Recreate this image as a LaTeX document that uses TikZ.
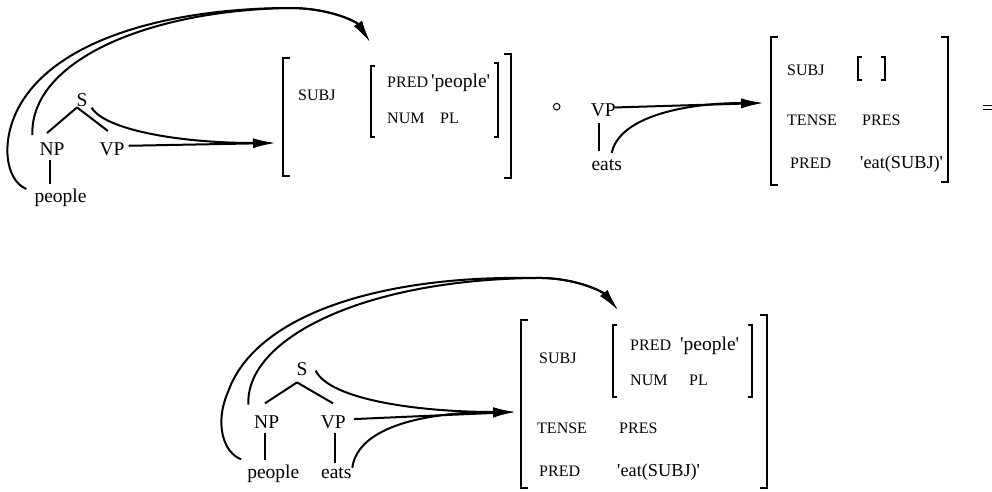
\documentclass[tikz,border=0pt]{standalone}
\usepackage{fontspec}
\setmainfont{Liberation Serif}
\usetikzlibrary{arrows.meta,calc}
\newcommand\bigf{\fontsize{19.5}{19.5}\selectfont}
\newcommand\valf{\fontsize{18.3}{18.3}\selectfont}
\newcommand\smf{\fontsize{16}{16}\selectfont}
\newcommand\q{\textquotesingle}
\begin{document}
\begin{tikzpicture}[x=1pt,y=1pt,
  lab/.style={inner sep=0pt,anchor=base,font=\bigf},
  feat/.style={inner sep=0pt,anchor=base west,font=\smf},
  val/.style={inner sep=0pt,anchor=base west,font=\bigf},
  vals/.style={inner sep=0pt,anchor=base west,font=\valf},
  branch/.style={line width=2pt},
  link/.style={line width=2pt,-{Latex[length=22pt,width=9.5pt]}},
  brk/.style={line width=2.2pt}]
\useasboundingbox (0,0) rectangle (992,-491);

% ---------- top left tree ----------
\node[lab] (s1) at (82,-106) {S};
\node[lab] (np1) at (52,-155) {NP};
\node[lab] (vp1) at (112,-155) {VP};
\node[lab] (people1) at (60.5,-202.7) {people};
\draw[branch] ([shift={(-5,-1)}]s1.south) -- ([shift={(-5,9)}]np1.north);
\draw[branch] ([shift={(-5,-1)}]s1.south) -- ([shift={(-4,11)}]vp1.north);
\draw[branch] ([shift={(-2,-5)}]np1.south) -- ([shift={(-10.5,5)}]people1.north);

% ---------- first f-structure ----------
\coordinate (tip1) at (275,-143);
\coordinate (tipA) at (370,-42);
\draw[brk] (290,-58) -- (283,-58) -- (283,-176) -- (290,-176);
\draw[brk] (504,-54) -- (511,-54) -- (511,-178) -- (504,-178);
\draw[brk] (375,-66) -- (371,-66) -- (371,-137) -- (375,-137);
\draw[brk] (494,-63) -- (498,-63) -- (498,-137) -- (494,-137);
\node[feat] (subj1) at (298,-100) {SUBJ};
\node[feat] (pred1) at (387,-87) {PRED};
\node[val]  (ppl1) at (431,-87) {\q people\q};
\node[feat] (num1) at (387,-123) {NUM};
\node[feat] (pl1) at (440,-123) {PL};

% arrows of the first tree
\draw[link] ([shift={(4,3)}]vp1.east) -- (tip1);
\draw[link] ([shift={(4,-8)}]s1.east) .. controls (105,-130) and (180,-143) .. (tip1);
\draw[link] ([shift={(-8,0)}]people1.north west) .. controls (5,-180) and (0,-140) .. (20,-105)
   .. controls (60,-35) and (180,-8) .. (290,-8) .. controls (330,-8) and (357,-22) .. (tipA);
\draw[link] ([shift={(-7,7)}]np1.north west) .. controls (30,-60) and (150,-10) .. (290,-8)
   .. controls (330,-8) and (357,-22) .. (tipA);

% ---------- composition ----------
\node[draw,circle,line width=1pt,minimum size=6.6pt,inner sep=0pt] (circ) at (556.7,-106.7) {};

% ---------- middle tree ----------
\node[lab] (vp2) at (603.3,-116.7) {VP};
\node[lab] (eats2) at (606.7,-170) {eats};
\coordinate (tip2) at (763,-103);
\draw[branch] ([shift={(-4.3,-6)}]vp2.south) -- ([shift={(-7.7,8)}]eats2.north);
\draw[link] ([shift={(-1,3)}]vp2.east) -- (tip2);
\draw[link] ([shift={(5,6)}]eats2.north) .. controls (620,-115) and (690,-103) .. (tip2);

% ---------- second f-structure ----------
\draw[brk] (778,-37) -- (771,-37) -- (771,-185) -- (778,-185);
\draw[brk] (941,-37) -- (948,-37) -- (948,-182) -- (941,-182);
\draw[brk] (862,-57) -- (858,-57) -- (858,-80) -- (862,-80);
\draw[brk] (881,-57) -- (885,-57) -- (885,-80) -- (881,-80);
\node[feat] (subj2) at (787,-75) {SUBJ};
\node[feat] (tense2) at (787,-125) {TENSE};
\node[feat] (pres2) at (862,-125) {PRES};
\node[feat] (pred2) at (790,-168) {PRED};
\node[vals] (eat2) at (860,-168) {\q eat(SUBJ)\q};

\node[lab] (eq) at (987.5,-114) {=};

% ---------- bottom tree ----------
\node[lab] (s3) at (302,-375) {S};
\node[lab] (np3) at (266.7,-428.3) {NP};
\node[lab] (vp3) at (333.3,-428.3) {VP};
\node[lab] (people3) at (273.3,-478) {people};
\node[lab] (eats3) at (336.3,-478) {eats};
\draw[branch] ([shift={(-5,-7)}]s3.south) -- ([shift={(-1.7,12)}]np3.north);
\draw[branch] ([shift={(-5,-7)}]s3.south) -- ([shift={(-0.3,12)}]vp3.north);
\draw[branch] ([shift={(-1.7,-4)}]np3.south) -- ([shift={(-8.3,4)}]people3.north);
\draw[branch] ([shift={(1.7,-4)}]vp3.south) -- ([shift={(-1.3,4)}]eats3.north);

\coordinate (tip3) at (515,-412);
\coordinate (tipB) at (618,-310);
\draw[link] ([shift={(8,3)}]vp3.east) -- (tip3);
\draw[link] ([shift={(8,-2)}]s3.east) .. controls (330,-400) and (420,-412) .. (tip3);
\draw[link] ([shift={(16,-1)}]eats3.north) .. controls (358,-425) and (430,-412) .. (tip3);
\draw[link] ([shift={(-5.6,10.7)}]np3.north west) .. controls (245,-340) and (360,-280) .. (535,-278)
   .. controls (575,-277) and (603,-292) .. (tipB);
\draw[link] ([shift={(-6,5)}]people3.north west) .. controls (222,-452) and (215,-421) .. (228,-392)
   .. controls (255,-315) and (380,-275) .. (535,-278) .. controls (575,-277) and (603,-292) .. (tipB);

% ---------- result f-structure ----------
\draw[brk] (528,-320) -- (521,-320) -- (521,-488) -- (528,-488);
\draw[brk] (760,-315) -- (767,-315) -- (767,-488) -- (760,-488);
\draw[brk] (617,-325) -- (613,-325) -- (613,-397) -- (617,-397);
\draw[brk] (748,-325) -- (752,-325) -- (752,-397) -- (748,-397);
\node[feat] (subj3) at (539,-363) {SUBJ};
\node[feat] (pred3) at (630,-350) {PRED};
\node[val]  (ppl3) at (680,-350) {\q people\q};
\node[feat] (num3) at (630,-385) {NUM};
\node[feat] (pl3) at (689,-385) {PL};
\node[feat] (tense3) at (537,-433) {TENSE};
\node[feat] (pres3) at (619,-433) {PRES};
\node[feat] (pred3b) at (539,-476) {PRED};
\node[vals] (eat3) at (617,-476) {\q eat(SUBJ)\q};
\end{tikzpicture}
\end{document}
